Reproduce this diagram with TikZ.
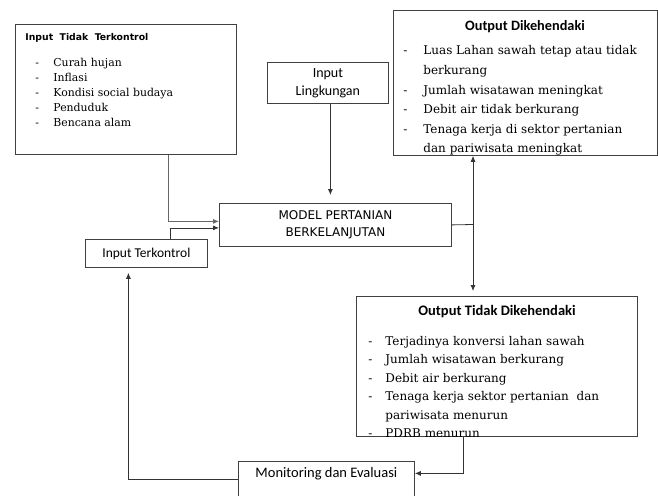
\documentclass[tikz,border=0pt]{standalone}
\usepackage{fontspec}
\setmainfont{DejaVu Serif}
\newfontfamily\lblfont{Carlito}
\newfontfamily\capfont{DejaVu Sans}
\usetikzlibrary{%
  arrows,%
  arrows.meta,%
  positioning,% wg. " of "
  calc%
}

\begin{document}
\begin{tikzpicture}[
  x=1pt, y=-1pt,
  >={Latex[length=6pt,width=5pt]},
  line width=0.8pt,
  box/.style={draw=black!75, rectangle, inner sep=0pt, anchor=north west},
  arr/.style={->, draw=black!80},
  item/.style={anchor=base west, inner sep=0pt},
  lbl/.style={font=\lblfont\fontsize{13.5}{18}\selectfont, align=center},
]
\useasboundingbox (0,0) rectangle (658,495);

% boxes
\node[box, minimum width=221pt, minimum height=130pt] (itk) at (15,24) {};
\node[box, minimum width=121pt, minimum height=41pt, lbl, font=\lblfont\fontsize{14}{18}\selectfont] (il) at (267,62) {Input\\Lingkungan};
\node[box, minimum width=264pt, minimum height=145pt] (od) at (393,10) {};
\node[box, minimum width=232pt, minimum height=43pt, align=center,
  font=\capfont\fontsize{12}{17.5}\selectfont] (model) at (219,203) {MODEL PERTANIAN\\BERKELANJUTAN};
\node[box, minimum width=122pt, minimum height=28pt, lbl] (itc) at (85,239) {Input Terkontrol};
\node[box, minimum width=281pt, minimum height=140pt] (otd) at (356,296) {};
\node[box, minimum width=176pt, minimum height=36pt, lbl, font=\lblfont\fontsize{14.5}{18}\selectfont,
  text depth=13pt] (mon) at (238,461) {Monitoring dan Evaluasi};

% Input Tidak Terkontrol
\node[item, font=\capfont\bfseries\fontsize{9.3}{11}\selectfont] (itkt) at (25,41) {Input\ \ Tidak\ \ Terkontrol};
\foreach \t [count=\i] in {Curah hujan, Inflasi, Kondisi social budaya, Penduduk, Bencana alam} {
  \node[item, font=\fontsize{10.9}{12}\selectfont] (itkd\i) at (35,51.5+15*\i) {-};
  \node[item, font=\fontsize{10.9}{12}\selectfont] (itkl\i) at (53,51.5+15*\i) {\t};
}

% Output Dikehendaki
\node[font=\lblfont\bfseries\fontsize{14.3}{16}\selectfont, anchor=base] (odt) at (525,31) {Output Dikehendaki};
\begin{scope}
\clip (od.north west) rectangle (od.south east);
\foreach \d/\t [count=\i] in {-/Luas Lahan sawah tetap atau tidak, /berkurang,
  -/Jumlah wisatawan meningkat, -/Debit air tidak berkurang,
  -/Tenaga kerja di sektor pertanian, /dan pariwisata meningkat} {
  \node[item, font=\fontsize{12}{14}\selectfont] (odd\i) at (403,35.5+19.5*\i) {\d};
  \node[item, font=\fontsize{12}{14}\selectfont] (odl\i) at (423,35.5+19.5*\i) {\t};
}
\end{scope}

% Output Tidak Dikehendaki
\node[font=\lblfont\bfseries\fontsize{14.5}{16}\selectfont, anchor=base] (otdt) at (497,315) {Output Tidak Dikehendaki};
\begin{scope}
\clip (otd.north west) rectangle (otd.south east);
\foreach \d/\t [count=\i] in {-/Terjadinya konversi lahan sawah, -/Jumlah wisatawan berkurang,
  -/Debit air berkurang, -/Tenaga kerja sektor pertanian\ \ dan, /pariwisata menurun,
  -/PDRB menurun} {
  \node[item, font=\fontsize{12}{14}\selectfont] (otdd\i) at (368,326.5+18.5*\i) {\d};
  \node[item, font=\fontsize{12}{14}\selectfont] (otdl\i) at (385,326.5+18.5*\i) {\t};
}
\end{scope}

% connectors
\coordinate (jn) at (473,224.5);
\coordinate (ilb) at ([xshift=2.5pt]il.south);
\draw[arr, draw=black!60] ([xshift=42.5pt]itk.south) |- ([yshift=3.5pt]model.west);
\draw[arr] ([xshift=24pt]itc.north) |- ([yshift=-3pt]model.west);
\draw[arr, shorten >=8pt] (ilb) -- (ilb |- model.north);
\draw[black!80] (model.east) -- (jn);
\draw[arr] (jn) -- (jn |- od.south);
\draw[arr, shorten >=5pt] (jn) -- (jn |- otd.north);
\draw[arr] ([xshift=-33.5pt]otd.south) |- ([yshift=6pt]mon.east);
\draw[arr, shorten >=5pt] (mon.west) -| ([xshift=-18pt]itc.south);

\end{tikzpicture}
\end{document}
